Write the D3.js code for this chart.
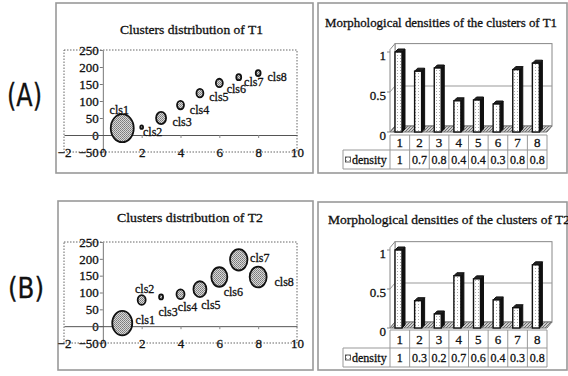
<!DOCTYPE html>
<html>
<head>
<meta charset="utf-8">
<script src="https://cdn.jsdelivr.net/npm/d3@7"></script>
<style>
  body { margin: 0; background: #fff; }
  svg { display: block; font-family: "Liberation Serif", "Times New Roman", serif; }
  svg text { stroke: #111; stroke-width: 0.3px; }
</style>
</head>
<body>
<svg id="chart" width="568" height="376"></svg>
<script>
// ---- data ----
const clusters = ["cls1", "cls2", "cls3", "cls4", "cls5", "cls6", "cls7", "cls8"];
const clusterX = [1, 2, 3, 4, 5, 6, 7, 8];
const t1Y = [20, 23, 50, 88, 123, 153, 170, 182];
const t1Size = [132, 2, 25, 12, 12, 12, 6, 6];
const t2Y = [9, 78, 87, 95, 110, 146, 197, 146];
const t2Size = [100, 16, 4, 16, 42, 64, 76, 72];
const xTicks = [-2, 0, 2, 4, 6, 8, 10];
const yTicks = [-50, 0, 50, 100, 150, 200, 250];

const barCats = ["1", "2", "3", "4", "5", "6", "7", "8"];
const t1Density = [1, 0.76, 0.8, 0.39, 0.4, 0.35, 0.78, 0.86];
const t2Density = [1, 0.35, 0.18, 0.67, 0.63, 0.36, 0.26, 0.81];
const t1DensityLabels = ["1", "0.7", "0.8", "0.4", "0.4", "0.3", "0.8", "0.8"];
const t2DensityLabels = ["1", "0.3", "0.2", "0.7", "0.6", "0.4", "0.3", "0.8"];
const densityTicks = [0, 0.5, 1];

// label offsets for the bubble labels (layout only)
const t1LabelOff = [[-3, -18], [11, 5], [21, 4], [19, 5], [19, 4], [17, 6], [15, 5], [19, 4]];
const t2LabelOff = [[23, -3], [3, -11], [7, 15], [7, 13], [11, 16], [14, 15], [21, -2], [26, 5]];

const svg = d3.select("#chart");
const defs = svg.append("defs");

// stipple gray for bubbles
const stip = defs.append("pattern").attr("id", "stipple")
    .attr("width", 2).attr("height", 2).attr("patternUnits", "userSpaceOnUse");
stip.append("rect").attr("width", 2).attr("height", 2).attr("fill", "#d8d8d8");
stip.append("rect").attr("width", 1).attr("height", 1).attr("fill", "#7a7a7a");
stip.append("rect").attr("x", 1).attr("y", 1).attr("width", 1).attr("height", 1).attr("fill", "#8a8a8a");

// light dots for bar faces
const dots = defs.append("pattern").attr("id", "dots")
    .attr("width", 3).attr("height", 3).attr("patternUnits", "userSpaceOnUse");
dots.append("rect").attr("width", 3).attr("height", 3).attr("fill", "#fff");
dots.append("rect").attr("x", 1).attr("y", 1).attr("width", 1).attr("height", 1).attr("fill", "#aaa");

// hatch for the floor
const hatch = defs.append("pattern").attr("id", "hatch")
    .attr("width", 3).attr("height", 3).attr("patternUnits", "userSpaceOnUse");
hatch.append("rect").attr("width", 3).attr("height", 3).attr("fill", "#ccc");
hatch.append("path").attr("d", "M0,3L3,0").attr("stroke", "#555").attr("stroke-width", 0.8);

function panelLabel(txt, x, y, size, len) {
    svg.append("text").attr("x", x).attr("y", y)
        .attr("font-family", "DejaVu Sans Condensed, DejaVu Sans, sans-serif")
        .attr("font-size", size).attr("textLength", len).attr("lengthAdjust", "spacingAndGlyphs")
        .attr("fill", "#111").text(txt);
}

function drawScatter(cfg, ys, sizes, offs) {
    const g = svg.append("g");
    g.append("rect").attr("x", cfg.box[0]).attr("y", cfg.box[1])
        .attr("width", cfg.box[2] - cfg.box[0]).attr("height", cfg.box[3] - cfg.box[1])
        .attr("fill", "none").attr("stroke", "#999").attr("stroke-width", 1.6);

    g.append("text").attr("x", cfg.titleX).attr("y", cfg.titleY)
        .attr("font-size", 13).attr("textLength", cfg.titleLen).attr("lengthAdjust", "spacingAndGlyphs")
        .attr("fill", "#111").text(cfg.title);

    const x = d3.scaleLinear().domain([-2, 10]).range([64, 297]);
    const y = d3.scaleLinear().domain([-50, 250]).range([cfg.bottom, cfg.top]);
    const r = d3.scaleSqrt().domain([0, 100]).range([0, 10]);

    g.append("rect").attr("x", x(-2)).attr("y", y(250))
        .attr("width", x(10) - x(-2)).attr("height", y(-50) - y(250))
        .attr("fill", "none").attr("stroke", "#666").attr("stroke-dasharray", "1.5,1.5");

    // y axis at x = 0
    const ya = g.append("g").attr("transform", "translate(" + x(0) + ",0)")
        .call(d3.axisLeft(y).tickValues(yTicks).tickSize(3).tickSizeOuter(0).tickPadding(1));
    ya.select(".domain").attr("stroke", "#777");
    ya.selectAll(".tick line").attr("stroke", "#777");
    ya.selectAll("text").attr("font-size", 13).attr("font-family", "Liberation Serif").attr("fill", "#111");

    // x axis line at y = 0
    const xa = g.append("g").attr("transform", "translate(0," + y(0) + ")")
        .call(d3.axisBottom(x).tickValues(xTicks.filter(d => d > 0 && d < 10)).tickSize(3).tickSizeOuter(0).tickFormat(""));
    xa.select(".domain").attr("stroke", "#555");
    xa.selectAll(".tick line").attr("stroke", "#888");

    // x tick labels on the bottom edge
    const xl = g.append("g").attr("transform", "translate(0," + y(-50) + ")")
        .call(d3.axisBottom(x).tickValues(xTicks).tickSize(0).tickPadding(-4));
    xl.select(".domain").remove();
    xl.selectAll("text").attr("font-size", 13).attr("font-family", "Liberation Serif").attr("fill", "#111");

    const pts = clusters.map((c, i) => ({ c: c, x: clusterX[i], y: ys[i], s: sizes[i], o: offs[i] }));

    g.selectAll("ellipse.b").data(pts).join("ellipse").attr("class", "b")
        .attr("cx", d => x(d.x)).attr("cy", d => y(d.y))
        .attr("rx", d => r(d.s)).attr("ry", d => r(d.s) * 1.22)
        .attr("fill", "url(#stipple)").attr("stroke", "#111").attr("stroke-width", 1.8);

    g.selectAll("text.lbl").data(pts).join("text").attr("class", "lbl")
        .attr("x", d => x(d.x) + d.o[0]).attr("y", d => y(d.y) + d.o[1])
        .attr("dy", "0.35em").attr("text-anchor", "middle")
        .attr("font-size", 12).attr("fill", "#111").text(d => d.c);
}

function drawBars(cfg, vals, labels) {
    const g = svg.append("g");
    g.append("rect").attr("x", cfg.box[0]).attr("y", cfg.box[1])
        .attr("width", cfg.box[2] - cfg.box[0]).attr("height", cfg.box[3] - cfg.box[1])
        .attr("fill", "none").attr("stroke", "#999").attr("stroke-width", 1.6);

    g.append("text").attr("x", cfg.titleX).attr("y", cfg.titleY)
        .attr("font-size", 12.5).attr("textLength", cfg.titleLen).attr("lengthAdjust", "spacingAndGlyphs")
        .attr("fill", "#111").text(cfg.title);

    const x = d3.scaleBand().domain(barCats).range([390, 547]);
    const y = d3.scaleLinear().domain([0, 1]).range([cfg.y0, cfg.y0 - cfg.h]);
    const dx = 5, dy = -6;
    const left = x.range()[0], right = x.range()[1];
    const top = y(1.03);

    // walls and floor
    g.append("rect").attr("x", left + dx).attr("y", top + dy)
        .attr("width", right - left).attr("height", cfg.y0 - top)
        .attr("fill", "#fff").attr("stroke", "#888");
    g.append("path")
        .attr("d", `M${left},${cfg.y0}L${left},${top}L${left + dx},${top + dy}L${left + dx},${cfg.y0 + dy}Z`)
        .attr("fill", "#fff").attr("stroke", "#888");
    g.append("path")
        .attr("d", `M${left},${cfg.y0}L${right},${cfg.y0}L${right + dx},${cfg.y0 + dy}L${left + dx},${cfg.y0 + dy}Z`)
        .attr("fill", "url(#hatch)").attr("stroke", "#777");
    // gridline
    g.append("path")
        .attr("d", `M${left},${y(0.5)}L${left + dx},${y(0.5) + dy}L${right + dx},${y(0.5) + dy}`)
        .attr("fill", "none").attr("stroke", "#999");

    g.selectAll("text.yt").data(densityTicks).join("text").attr("class", "yt")
        .attr("x", left - 4).attr("y", d => y(d) + 3).attr("dy", "0.35em")
        .attr("text-anchor", "end").attr("font-size", 13).attr("fill", "#111").text(d => d);
    g.selectAll("line.yt").data(densityTicks).join("line").attr("class", "yt")
        .attr("x1", left - 3).attr("x2", left).attr("y1", d => y(d)).attr("y2", d => y(d))
        .attr("stroke", "#888");

    const bars = barCats.map((c, i) => ({ c: c, v: vals[i], l: labels[i] }));
    const fw = 7, sd = 3;
    const bg = g.selectAll("g.bar").data(bars).join("g").attr("class", "bar");
    bg.append("path")
        .attr("d", d => {
            const x1 = x(d.c) + 5 + fw, yt = y(d.v);
            return `M${x1},${cfg.y0}L${x1 + sd},${cfg.y0 - sd}L${x1 + sd},${yt - sd}L${x1},${yt}Z`;
        })
        .attr("fill", "#111").attr("stroke", "#111");
    bg.append("path")
        .attr("d", d => {
            const x0 = x(d.c) + 5, yt = y(d.v);
            return `M${x0},${yt}L${x0 + sd},${yt - sd}L${x0 + fw + sd},${yt - sd}L${x0 + fw},${yt}Z`;
        })
        .attr("fill", "#222").attr("stroke", "#111");
    bg.append("rect")
        .attr("x", d => x(d.c) + 5).attr("y", d => y(d.v))
        .attr("width", fw).attr("height", d => cfg.y0 - y(d.v))
        .attr("fill", "url(#dots)").attr("stroke", "#111").attr("stroke-width", 1.4);

    // data table
    const r1 = cfg.tTop, r2 = cfg.tTop + cfg.rh1, r3 = r2 + cfg.rh2;
    const tl = g.append("g").attr("stroke", "#999").attr("fill", "none");
    tl.append("path").attr("d", `M${left},${r1}L${right},${r1}M343,${r2}L${right},${r2}M343,${r3}L${right},${r3}M343,${r2}L343,${r3}`);
    tl.selectAll("line").data(barCats.concat(["end"])).join("line")
        .attr("x1", d => d === "end" ? right : x(d)).attr("x2", d => d === "end" ? right : x(d))
        .attr("y1", r1).attr("y2", r3);

    g.selectAll("text.cat").data(bars).join("text").attr("class", "cat")
        .attr("x", d => x(d.c) + x.bandwidth() / 2).attr("y", (r1 + r2) / 2).attr("dy", "0.35em")
        .attr("text-anchor", "middle").attr("font-size", 13).attr("fill", "#111").text(d => d.c);
    g.selectAll("text.val").data(bars).join("text").attr("class", "val")
        .attr("x", d => x(d.c) + x.bandwidth() / 2).attr("y", (r2 + r3) / 2).attr("dy", "0.35em")
        .attr("text-anchor", "middle").attr("font-size", 12).attr("fill", "#111").text(d => d.l);

    g.append("rect").attr("x", 345.5).attr("y", (r2 + r3) / 2 - 2.5).attr("width", 5).attr("height", 5)
        .attr("fill", "url(#dots)").attr("stroke", "#333").attr("stroke-width", 0.8);
    g.append("text").attr("x", 352).attr("y", (r2 + r3) / 2).attr("dy", "0.35em")
        .attr("font-size", 12).attr("fill", "#111").text("density");
}

panelLabel("(A)", 7, 106, 32, 35);
panelLabel("(B)", 8, 298, 28, 36);

drawScatter({ box: [56, 3, 313, 173], title: "Clusters distribution of T1", titleX: 120, titleY: 34, titleLen: 143,
    top: 50, bottom: 152 }, t1Y, t1Size, t1LabelOff);
drawScatter({ box: [58, 201, 313, 370], title: "Clusters distribution of T2", titleX: 117, titleY: 222, titleLen: 146,
    top: 242, bottom: 343 }, t2Y, t2Size, t2LabelOff);

drawBars({ box: [318, 3, 567, 173], title: "Morphological densities of the clusters of T1", titleX: 325, titleY: 27, titleLen: 232,
    y0: 132, h: 80, tTop: 135, rh1: 15, rh2: 19 }, t1Density, t1DensityLabels);
drawBars({ box: [318, 202, 567, 370], title: "Morphological densities of the clusters of T2", titleX: 328, titleY: 224, titleLen: 242,
    y0: 328, h: 78, tTop: 330, rh1: 18, rh2: 19 }, t2Density, t2DensityLabels);
</script>
</body>
</html>
